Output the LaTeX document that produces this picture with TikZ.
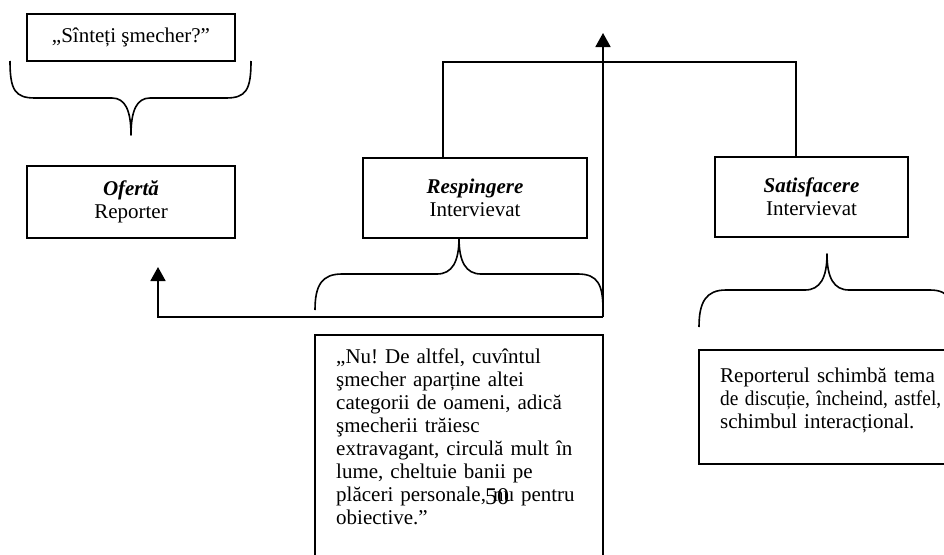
\documentclass[tikz,border=0pt]{standalone}
\usepackage{fontspec}
\setmainfont{Liberation Serif}
\usetikzlibrary{arrows.meta}
\tikzset{
  rolebox/.style={draw, line width=1.6pt, inner sep=0pt, align=center,
                  font=\fontsize{21}{23}\selectfont},
  quotetext/.style={anchor=north west, inner xsep=21pt, inner ysep=14pt,
                    font=\fontsize{21}{23}\selectfont\frenchspacing},
  curly/.style={line width=1.6pt, line join=round},
  flow/.style={line width=1.8pt, -{Triangle[width=15pt,length=14pt]}}
}

\begin{document}
\begin{tikzpicture}[
  x=1pt,
  y=-1pt,
]
\clip (0,0) rectangle (944,554);

% the question and the three moves
\node [rolebox, minimum width=208pt, minimum height=47pt, name=ques]
      at (131,37.5) {„Sînteți şmecher?”};
\node [rolebox, minimum width=208pt, minimum height=72pt, name=oferta]
      at (131,202) {\textbf{\textit{Ofertă}}\\Reporter};
\node [rolebox, minimum width=224pt, minimum height=80pt, name=resp]
      at (475,198) {\textbf{\textit{Respingere}}\\Intervievat};
\node [rolebox, minimum width=193pt, minimum height=80pt, name=sat]
      at (811.5,197) {\textbf{\textit{Satisfacere}}\\Intervievat};

% answers
\node [quotetext, text width=246pt, align=left, name=nu] at (315,335)
      {„Nu! De altfel, cuvîntul\\
       şmecher aparține altei\\
       categorii de oameni, adică\\
       şmecherii trăiesc\\
       extravagant, circulă mult în\\
       lume, cheltuie banii pe\\
       plăceri personale, nu pentru\\
       obiective.”};
\draw [line width=1.6pt] (nu.north west) rectangle ++(288,260);

\node [quotetext, inner ysep=18pt, text width=240pt, align=left, name=rep]
      at (699,350)
      {\makebox[215pt][s]{Reporterul schimbă tema}\\
       \resizebox{221pt}{\height}{de discuție, încheind, astfel,}\\
       schimbul interacțional.};
\draw [line width=1.6pt] (rep.north west) rectangle ++(282,114);

\node [font=\fontsize{24}{24}\selectfont, inner sep=0pt, name=pagenum]
      at (497,497) {50};

% braces
\draw [curly] (10,61) .. controls (10,90) and (15,98) .. (35,98) -- (112,98)
      .. controls (125,98) and (131,110) .. (131,135)
      .. controls (131,110) and (137,98) .. (150,98) -- (226,98)
      .. controls (246,98) and (251,90) .. (251,61);
\draw [curly] (315,310) .. controls (315,285) and (322,274) .. (342,274) -- (437,274)
      .. controls (452,274) and (459,262) .. (459,238)
      .. controls (459,262) and (466,274) .. (481,274) -- (578,274)
      .. controls (598,274) and (603,285) .. (603,310);
\draw [curly] (699,327) .. controls (699,302) and (706,290) .. (726,290) -- (805,290)
      .. controls (820,290) and (827,278) .. (827,254)
      .. controls (827,278) and (834,290) .. (849,290) -- (930,290)
      .. controls (950,290) and (955,302) .. (955,327);

% connectors
\coordinate (junc) at (603,317);
\coordinate (uptip) at (603,33);
\coordinate (backtip) at (158,267);
\coordinate (hub) at (603,62);
\draw [flow] (junc) -- (uptip);
\draw [flow] (junc) -| (backtip);
\draw [line width=1.6pt] ([xshift=-32pt]resp.north) |- (hub)
      -| ([xshift=-15.5pt]sat.north);

\end{tikzpicture}
\end{document}
